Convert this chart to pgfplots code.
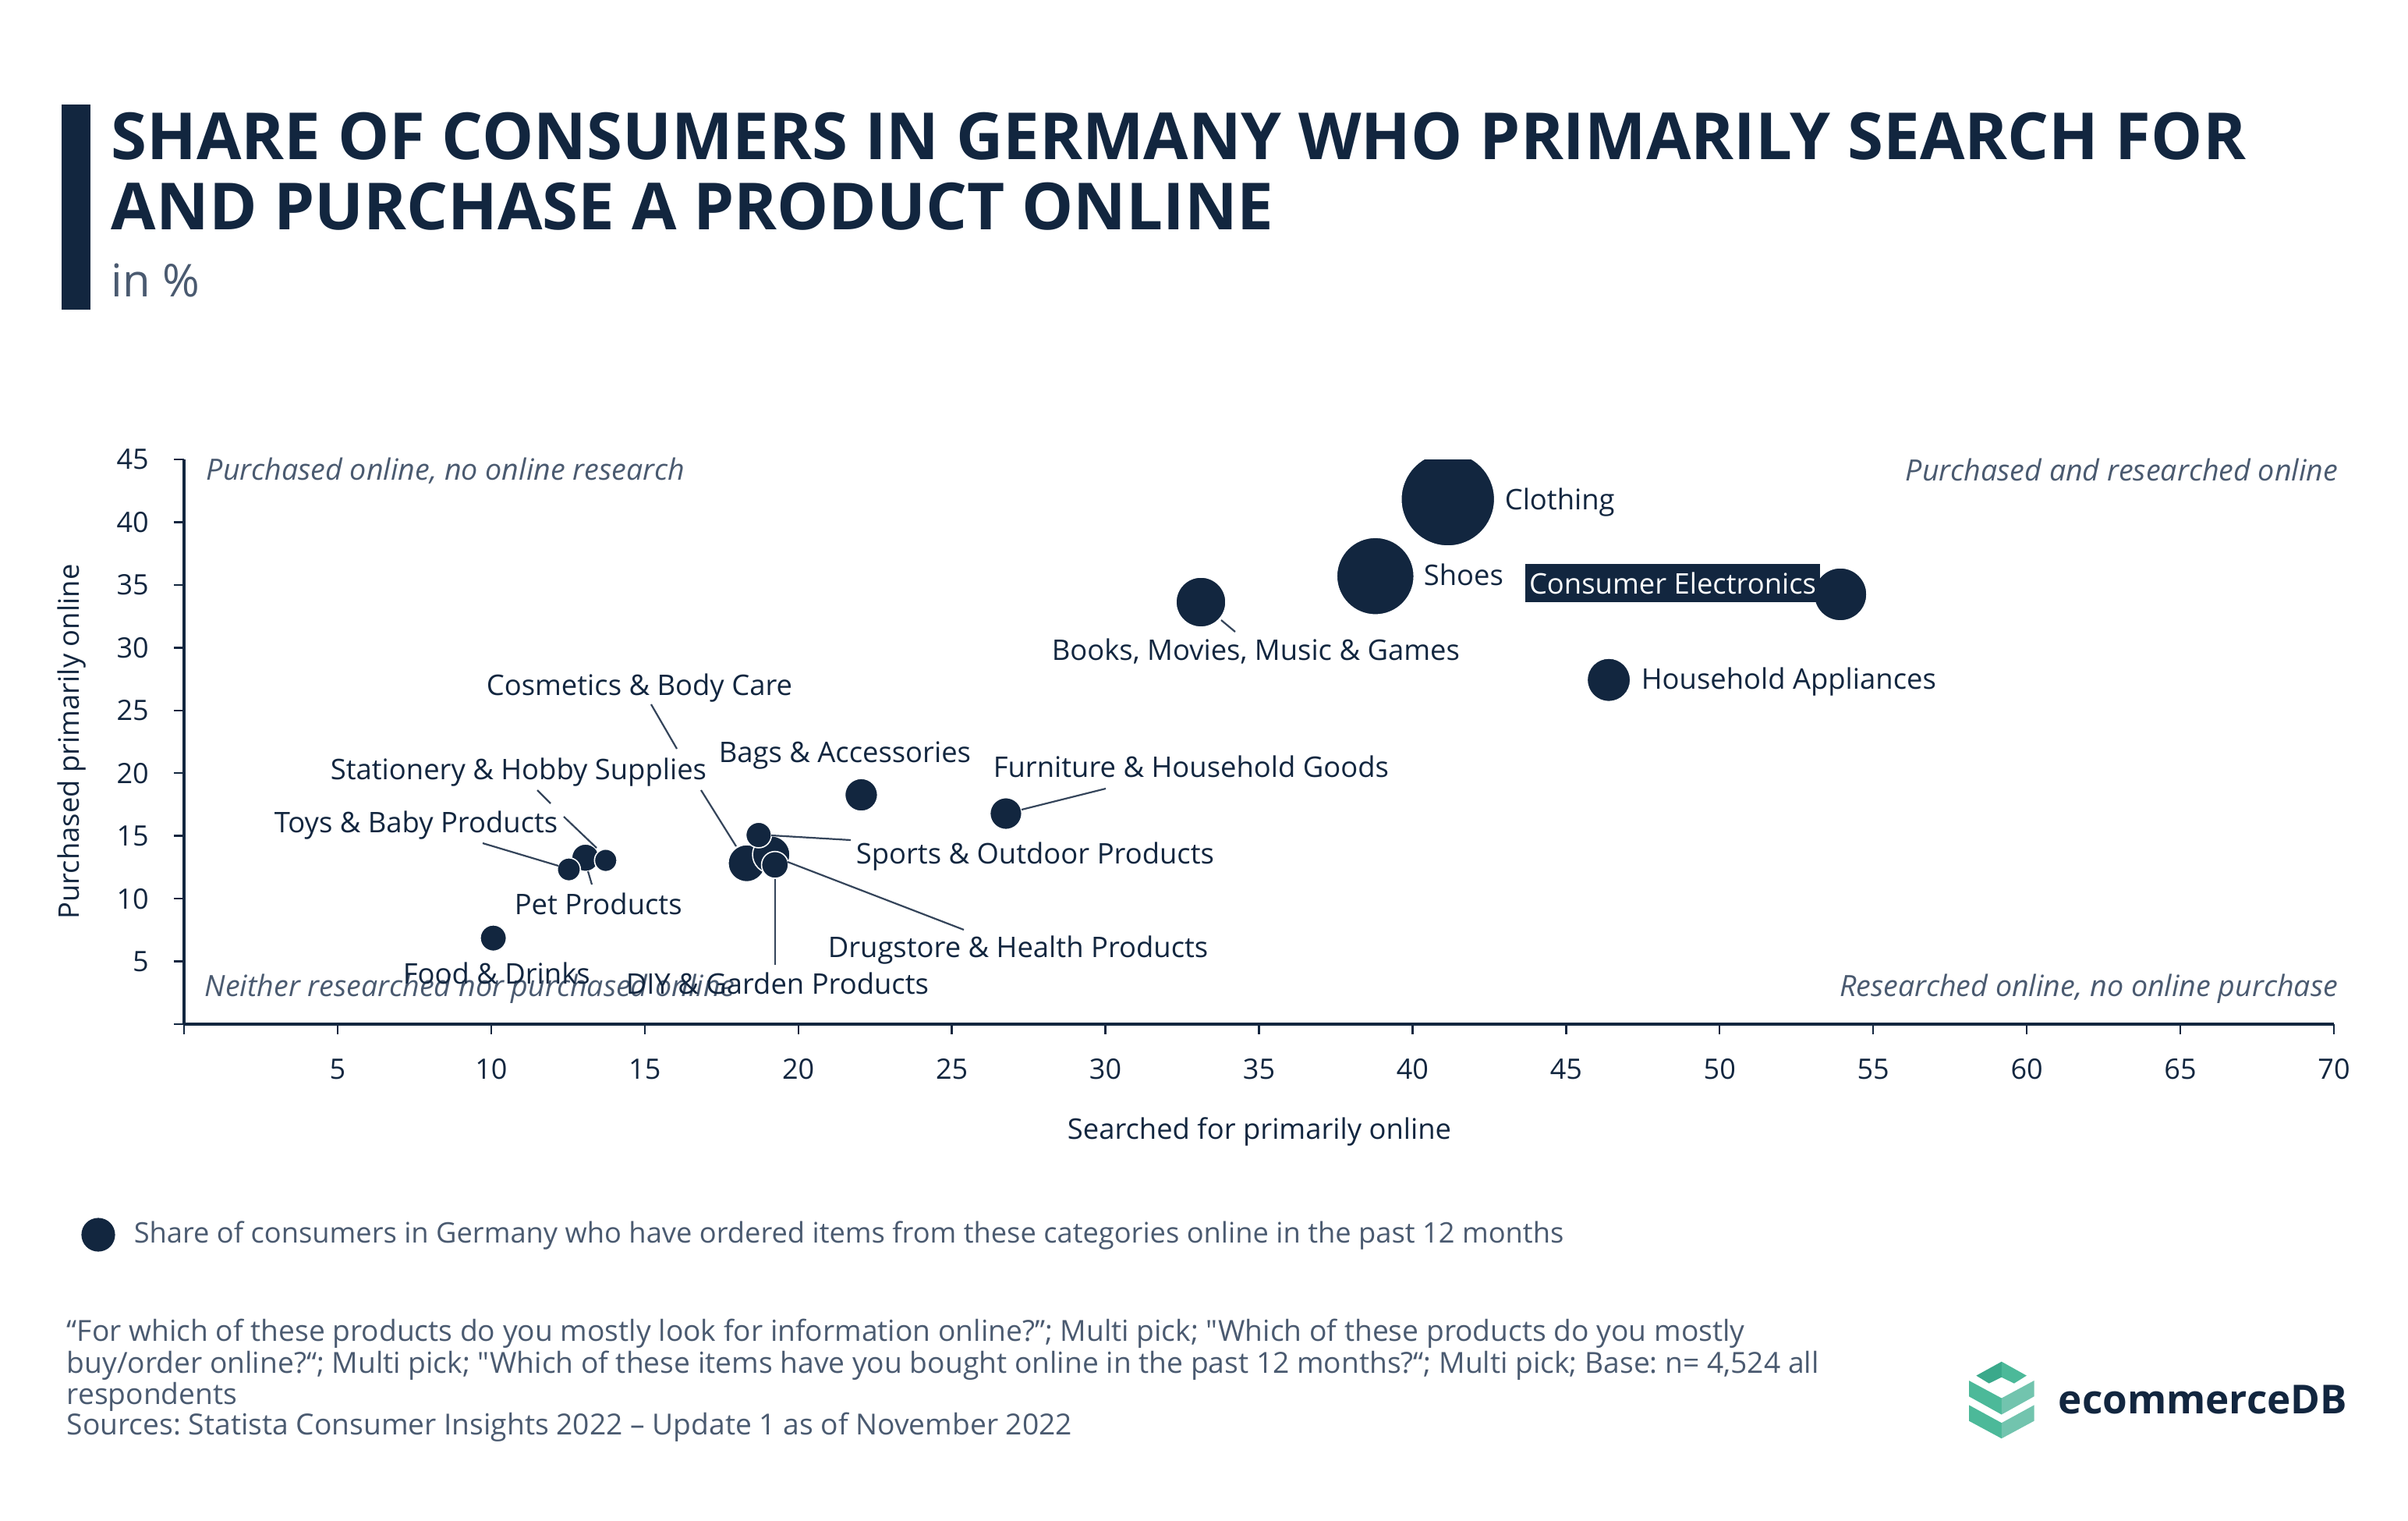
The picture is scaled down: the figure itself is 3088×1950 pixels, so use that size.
\documentclass[border=0pt]{standalone}
\usepackage{fontspec}
\setmainfont{Open Sans}[Ligatures=TeXOff]
\usepackage{pgfplots}
\usepackage{pgfplotstable}
\pgfplotsset{compat=1.18}
\frenchspacing
\definecolor{navy}{HTML}{12263F}
\definecolor{slate}{HTML}{4A5A70}
\definecolor{leader}{HTML}{34445A}
\definecolor{gA}{HTML}{3AA98B}
\definecolor{gB}{HTML}{4CB999}
\definecolor{gC}{HTML}{72C4AE}
\newcommand\lab{\fontsize{9.1}{11}\selectfont}
\newcommand\corner{\fontsize{9.4}{11}\selectfont\itshape}

% x = searched primarily online, y = purchased primarily online, r = bubble radius (pt)
\pgfplotstableread{
name x y r
Food 10.07 6.86 4.2
Pet 13.07 13.26 4.4
Toys 12.53 12.33 3.7
Stationery 13.73 13.05 3.6
Cosmetics 18.32 12.82 5.95
Drugstore 19.12 13.51 6.0
Sports 18.71 15.07 4.1
DIY 19.24 12.69 4.3
Bags 22.05 18.27 5.25
Furniture 26.76 16.78 5.1
Books 33.11 33.63 8.0
Household 46.39 27.43 6.95
Shoes 38.79 35.70 12.4
Clothing 41.15 41.83 15.0
Electronics 53.93 34.25 8.5
}\bubbles

\begin{document}
\begin{tikzpicture}
\begin{axis}[
  at={(59pt,-328.25pt)}, anchor=south west,
  scale only axis, width=689.25pt, height=181pt,
  xmin=0, xmax=70, ymin=0, ymax=45,
  axis lines=left,
  axis line style={-, draw=navy},
  x axis line style={line width=1.1pt},
  y axis line style={line width=0.8pt},
  tick style={draw=navy, line width=0.6pt},
  major tick length=3.2pt,
  tick align=outside,
  xtick={0,5,...,70},
  xticklabels={,5,10,15,20,25,30,35,40,45,50,55,60,65,70},
  ytick={0,5,...,45},
  yticklabels={,5,10,15,20,25,30,35,40,45},
  /pgf/number format/assume math mode=true,
  ticklabel style={font=\fontsize{9}{10}\selectfont, text=navy},
  xticklabel style={yshift=-4.4pt},
  yticklabel style={xshift=-4.6pt},
  clip marker paths=true,
]
\addplot[
  scatter, only marks, mark=*,
  point meta=\thisrow{r},
  visualization depends on={\thisrow{r}\as\rad},
  scatter/use mapped color={draw=white, fill=navy},
  scatter/@pre marker code/.append style={/tikz/mark size=\rad pt},
  mark options={line width=0.4pt},
] table[x=x,y=y]{\bubbles};
\end{axis}

\begin{scope}[x=0.25pt,y=-0.25pt]
\path (0,0) rectangle (3088,1950);
% title block
\fill[navy] (79,134) rectangle (116,397);
\node[anchor=base west, inner sep=0, text=navy, font=\fontsize{20.83}{22}\selectfont\bfseries] at (142,204) {SHARE OF CONSUMERS IN GERMANY WHO PRIMARILY SEARCH FOR};
\node[anchor=base west, inner sep=0, text=navy, font=\fontsize{20.83}{22}\selectfont\bfseries] at (142,294) {AND PURCHASE A PRODUCT ONLINE};
\node[anchor=base west, inner sep=0, text=slate, font=\fontsize{14.5}{16}\selectfont] at (142,380) {in \%};

% corner labels
\node[anchor=base west, inner sep=0, text=slate, font=\corner] at (264,615) {Purchased online, no online research};
\node[anchor=base west, inner sep=0, text=slate, font=\corner] at (262,1277) {Neither researched nor purchased online};
\node[anchor=base east, inner sep=0, text=slate, font=\corner] at (2999,616) {Purchased and researched online};
\node[anchor=base east, inner sep=0, text=slate, font=\corner] at (2999,1277) {Researched online, no online purchase};

% axis titles
\node[text=navy, font=\lab, inner sep=0] at (1615,1451) {Searched for primarily online};
\node[text=navy, font=\lab, inner sep=0, rotate=90] at (92.5,951) {Purchased primarily online};

% leader lines
\begin{scope}[draw=leader, line width=0.55pt]
\draw (1566,795) -- (1584,810);
\draw (835,903) -- (868,960);
\draw (899,1013) -- (944,1085);
\draw (689,1013) -- (706,1030);
\draw (723,1047) -- (765,1087);
\draw (619,1081) -- (716,1110);
\draw (759,1134) -- (754,1117);
\draw (989,1071) -- (1091,1077);
\draw (1010,1105) -- (1236,1192);
\draw (994,1127) -- (994,1237);
\draw (1310,1038) -- (1418,1011);
\end{scope}

% data labels
\begin{scope}[every node/.style={anchor=mid west, inner sep=0, text=navy, font=\lab}]
\node at (1929,643) {Clothing};
\node at (1825,740) {Shoes};
\node at (1348,836) {Books, Movies, Music \& Games};
\node at (2104,873) {Household Appliances};
\node at (921,967) {Bags \& Accessories};
\node at (1273,986) {Furniture \& Household Goods};
\node at (1097,1097) {Sports \& Outdoor Products};
\node at (1061,1217) {Drugstore \& Health Products};
\node at (802,1264) {DIY \& Garden Products};
\node at (516,1251) {Food \& Drinks};
\node at (659,1162) {Pet Products};
\node at (351,1057) {Toys \& Baby Products};
\node at (423,989) {Stationery \& Hobby Supplies};
\node at (623,881) {Cosmetics \& Body Care};
\end{scope}
\node[fill=navy, text=white, font=\lab, inner sep=0, minimum width=94.5pt, minimum height=12.25pt] at (2145,747.5) {Consumer Electronics};

% legend
\fill[navy] (126,1583) circle[radius=5.4pt];
\node[anchor=mid west, inner sep=0, text=slate, font=\fontsize{9.07}{11}\selectfont] at (171,1583) {Share of consumers in Germany who have ordered items from these categories online in the past 12 months};

% footnote
\begin{scope}[every node/.style={anchor=base west, inner sep=0, text=slate, font=\fontsize{9.3}{10}\selectfont}]
\node at (85,1719) {“For which of these products do you mostly look for information online?”; Multi pick; "Which of these products do you mostly};
\node at (85,1760) {buy/order online?“; Multi pick; "Which of these items have you bought online in the past 12 months?“; Multi pick; Base: n= 4,524 all};
\node at (85,1800) {respondents};
\node at (85,1839) {Sources: Statista Consumer Insights 2022 – Update 1 as of November 2022};
\end{scope}

% logo
\fill[gA] (2534.3,1763.6) -- (2566.8,1745.7) -- (2566.8,1765.7) -- (2550.7,1773.6) -- cycle;
\fill[gB] (2566.8,1745.7) -- (2598.9,1763.6) -- (2582.8,1773.6) -- (2566.8,1765.7) -- cycle;
\fill[gB] (2525,1770) -- (2566.8,1792.5) -- (2566.8,1813.5) -- (2525,1790.3) -- cycle;
\fill[gC] (2566.8,1792.5) -- (2608.5,1770) -- (2608.5,1790.3) -- (2566.8,1813.5) -- cycle;
\fill[gB] (2525,1801.4) -- (2566.8,1824.2) -- (2566.8,1844.2) -- (2525,1821.7) -- cycle;
\fill[gC] (2566.8,1824.2) -- (2608.5,1801.4) -- (2608.5,1821.7) -- (2566.8,1844.2) -- cycle;
\node[anchor=base west, inner sep=0, text=navy, font=\fontsize{12.8}{15}\selectfont\bfseries] at (2639,1812) {ecommerceDB};
\end{scope}
\end{tikzpicture}
\end{document}
